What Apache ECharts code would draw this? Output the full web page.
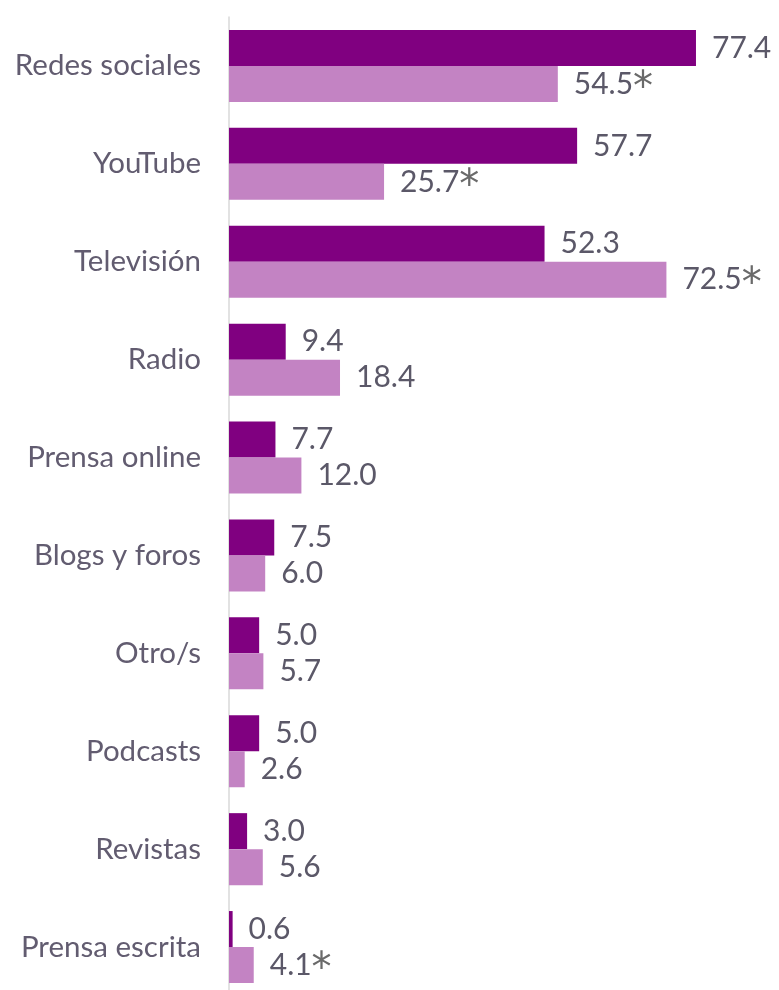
<!DOCTYPE html>
<html>
<head>
<meta charset="utf-8">
<script src="https://cdn.jsdelivr.net/npm/echarts@6/dist/echarts.min.js"></script>
<style>
html,body{margin:0;padding:0;background:#fff;}
#chart{width:779px;height:990px;}
</style>
</head>
<body>
<div id="chart"></div>
<script>
const categories = ["Redes sociales","YouTube","Televisión","Radio","Prensa online","Blogs y foros","Otro/s","Podcasts","Revistas","Prensa escrita"];
const seriesA = [77.4,57.7,52.3,9.4,7.7,7.5,5.0,5.0,3.0,0.6];
const seriesB = [54.5,25.7,72.5,18.4,12.0,6.0,5.7,2.6,5.6,4.1];
const seriesBMarks = ["*","*","*","","","","","","","*"];

const textColor = "#5b5868";
const valueFont = {fontSize:30, color:textColor, fontFamily:'Lato', lineHeight:36};
const chart = echarts.init(document.getElementById('chart'), null, {renderer:'canvas'});
chart.setOption({
  animation:false,
  grid:{left:229, top:17, width:543, height:979, containLabel:false, outerBoundsMode:'none'},
  xAxis:{type:'value', min:0, max:90, show:false},
  yAxis:{
    type:'category', data:categories, inverse:true,
    axisLine:{show:true, lineStyle:{color:'#d9d9d9', width:1.5}},
    axisTick:{show:false},
    axisLabel:{margin:28, fontSize:29.5, color:'#625c70', fontFamily:'Lato'}
  },
  series:[
    {type:'bar', data:seriesA, barWidth:36, barGap:'0%',
     itemStyle:{color:'#800080'},
     label:Object.assign({show:true, position:'right', distance:16,
       formatter:p=>p.value.toFixed(1)}, valueFont)},
    {type:'bar', data:seriesB, barWidth:36, barGap:'0%',
     itemStyle:{color:'#c383c3'},
     label:Object.assign({show:true, position:'right', distance:16,
       formatter:p=>p.value.toFixed(1)+(seriesBMarks[p.dataIndex]?'{a|'+seriesBMarks[p.dataIndex]+'}':''),
       rich:{a:{fontSize:40, lineHeight:36, color:'#6a6a6a', fontFamily:'DejaVu Sans', verticalAlign:'top', padding:[4,0,0,0]}}}, valueFont)}
  ]
});
</script>
</body>
</html>
